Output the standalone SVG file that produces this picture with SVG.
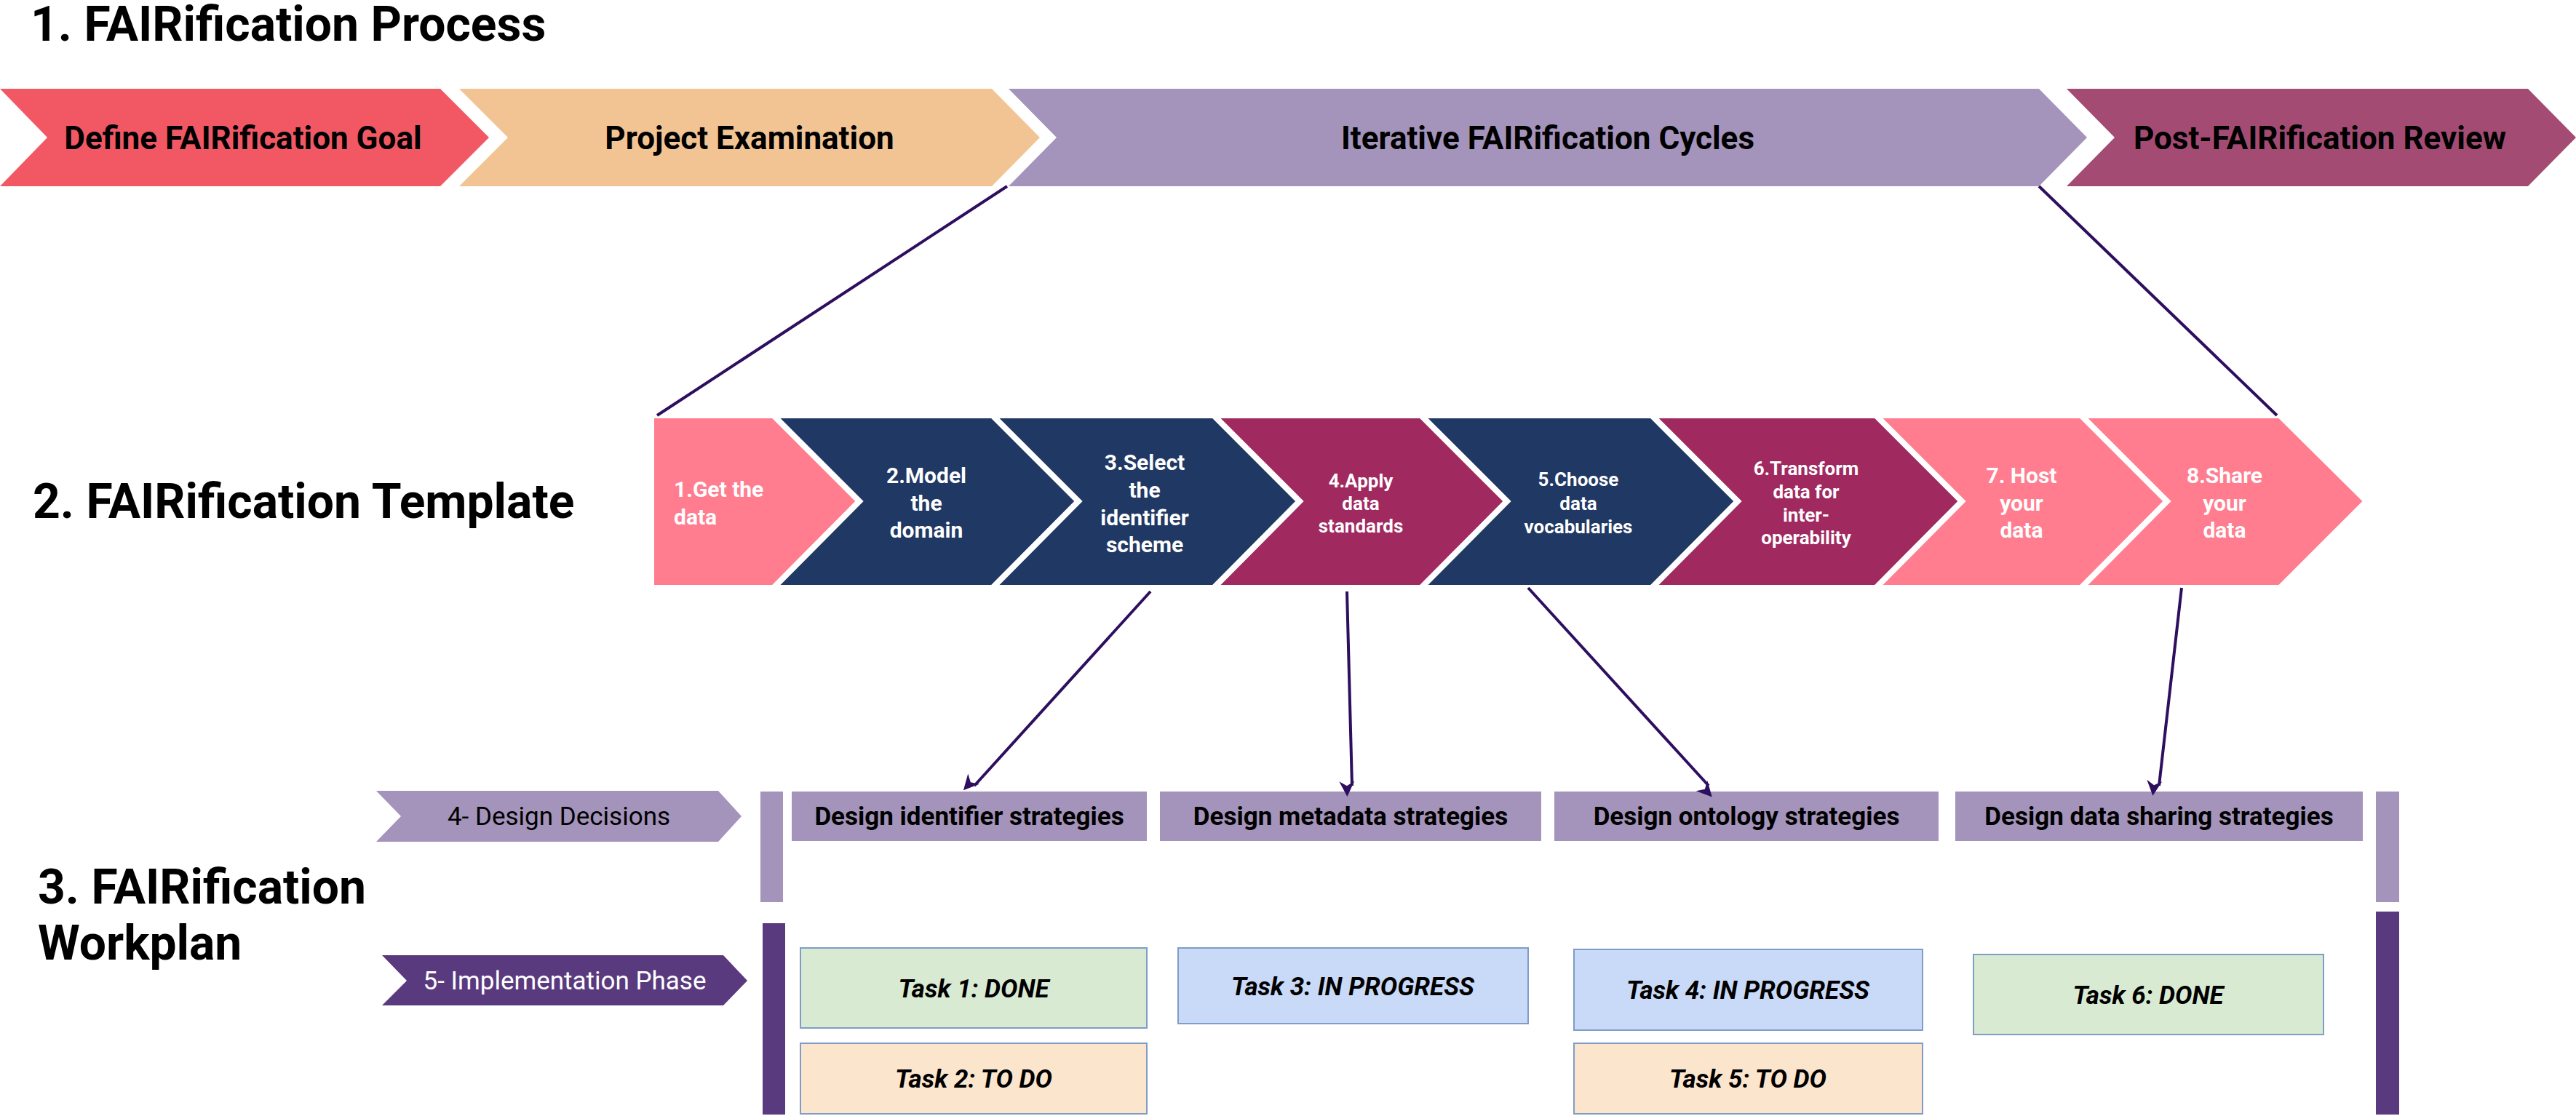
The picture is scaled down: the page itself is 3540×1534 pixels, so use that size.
<svg xmlns="http://www.w3.org/2000/svg" width="3540" height="1534" viewBox="0 0 3540 1534">
<style>
text{font-family:Roboto,"Liberation Sans",Arial,sans-serif}
.title{font-size:66px;font-weight:700;fill:#000}
.top{font-size:44px;font-weight:700;fill:#000;text-anchor:middle}
.tpl{font-size:30px;font-weight:700;fill:#fff;text-anchor:middle}
.tpls{font-size:26px;font-weight:700;fill:#fff;text-anchor:middle}
.hdr{font-size:35px;font-weight:700;fill:#000;text-anchor:middle}
.task{font-size:35px;font-weight:700;font-style:italic;fill:#000;text-anchor:middle}
.chev{stroke:#fff;stroke-width:8;stroke-linejoin:miter}
.conn{stroke:#2E0E5E;stroke-width:4;fill:none}
</style>
<defs>
<marker id="ah" viewBox="0 0 10 10" refX="9" refY="5" markerWidth="7" markerHeight="7" orient="auto" markerUnits="userSpaceOnUse" style="overflow:visible">
<path d="M0,0 L10,5 L0,10 L3,5 z" fill="#2E0E5E" transform="scale(3)"/>
</marker>
</defs>
<g id="titles">
<text class="title" x="42" y="56">1. FAIRification Process</text>
<text class="title" x="45" y="712">2. FAIRification Template</text>
<text class="title" x="52" y="1242">3. FAIRification</text>
<text class="title" x="52" y="1319">Workplan</text>
</g>
<g id="process">
<g id="p1"><polygon points="0,122 605,122 672,189 605,256 0,256 65,189" fill="#F25864"/><text class="top" x="334" y="205">Define FAIRification Goal</text></g>
<g id="p2"><polygon points="631,122 1363,122 1429,189 1363,256 631,256 698,189" fill="#F2C494"/><text class="top" x="1030" y="205">Project Examination</text></g>
<g id="p3"><polygon points="1386,122 2802,122 2868,189 2802,256 1386,256 1452,189" fill="#A493BA"/><text class="top" x="2127" y="205">Iterative FAIRification Cycles</text></g>
<g id="p4"><polygon points="2840,122 3474,122 3540,189 3474,256 2840,256 2906,189" fill="#A34B73"/><text class="top" x="3188" y="205">Post-FAIRification Review</text></g>
</g>
<g id="template">
<g id="t1"><polygon class="chev" points="895,571 1063,571 1181,689 1063,808 895,808" fill="#FF7D8F"/><text class="tpl" style="text-anchor:start" x="926" y="683">1.Get the</text><text class="tpl" style="text-anchor:start" x="926" y="721">data</text></g>
<g id="t2"><polygon class="chev" points="1063,571 1364,571 1482,689 1364,808 1063,808 1181,689" fill="#203864"/><text class="tpl" x="1273" y="664">2.Model</text><text class="tpl" x="1273" y="702">the</text><text class="tpl" x="1273" y="739">domain</text></g>
<g id="t3"><polygon class="chev" points="1364,571 1668,571 1786,689 1668,808 1364,808 1482,689" fill="#203864"/><text class="tpl" x="1573" y="646">3.Select</text><text class="tpl" x="1573" y="684">the</text><text class="tpl" x="1573" y="722">identifier</text><text class="tpl" x="1573" y="759">scheme</text></g>
<g id="t4"><polygon class="chev" points="1668,571 1953,571 2071,689 1953,808 1668,808 1786,689" fill="#A0295F"/><text class="tpls" x="1870" y="670">4.Apply</text><text class="tpls" x="1870" y="701">data</text><text class="tpls" x="1870" y="732">standards</text></g>
<g id="t5"><polygon class="chev" points="1953,571 2270,571 2388,689 2270,808 1953,808 2071,689" fill="#203864"/><text class="tpls" x="2169" y="668">5.Choose</text><text class="tpls" x="2169" y="701">data</text><text class="tpls" x="2169" y="733">vocabularies</text></g>
<g id="t6"><polygon class="chev" points="2270,571 2578,571 2696,689 2578,808 2270,808 2388,689" fill="#A0295F"/><text class="tpls" x="2482" y="653">6.Transform</text><text class="tpls" x="2482" y="685">data for</text><text class="tpls" x="2482" y="717">inter-</text><text class="tpls" x="2482" y="748">operability</text></g>
<g id="t7"><polygon class="chev" points="2578,571 2860,571 2978,689 2860,808 2578,808 2696,689" fill="#FF7D8F"/><text class="tpl" x="2778" y="664">7. Host</text><text class="tpl" x="2778" y="702">your</text><text class="tpl" x="2778" y="739">data</text></g>
<g id="t8"><polygon class="chev" points="2860,571 3133,571 3252,689 3133,808 2860,808 2978,689" fill="#FF7D8F"/><text class="tpl" x="3057" y="664">8.Share</text><text class="tpl" x="3057" y="702">your</text><text class="tpl" x="3057" y="739">data</text></g>
</g>
<g id="workplan">
<g id="design"><polygon points="517,1087 987,1087 1019,1122 987,1157 517,1157 551,1122" fill="#A493BA"/><text x="768" y="1134" style="font-size:35px;fill:#000;text-anchor:middle">4- Design Decisions</text></g>
<g id="impl"><polygon points="525,1313 994,1313 1027,1348 994,1382 525,1382 559,1348" fill="#5A3A7E"/><text x="776" y="1360" style="font-size:35px;fill:#fff;text-anchor:middle">5- Implementation Phase</text></g>
<rect x="1045" y="1088" width="31" height="152" fill="#A493BA"/>
<rect x="3265" y="1088" width="32" height="152" fill="#A493BA"/>
<rect x="1048" y="1269" width="31" height="263" fill="#5A3A7E"/>
<rect x="3265" y="1253" width="32" height="279" fill="#5A3A7E"/>
<g id="h1"><rect x="1088" y="1088" width="488" height="68" fill="#A493BA"/><text class="hdr" x="1332" y="1134">Design identifier strategies</text></g>
<g id="h2"><rect x="1594" y="1088" width="524" height="68" fill="#A493BA"/><text class="hdr" x="1856" y="1134">Design metadata strategies</text></g>
<g id="h3"><rect x="2136" y="1088" width="528" height="68" fill="#A493BA"/><text class="hdr" x="2400" y="1134">Design ontology strategies</text></g>
<g id="h4"><rect x="2687" y="1088" width="560" height="68" fill="#A493BA"/><text class="hdr" x="2967" y="1134">Design data sharing strategies</text></g>
<g id="task1"><rect x="1100" y="1303" width="476" height="110" fill="#D9EAD3" stroke="#7F9DC6" stroke-width="2"/><text class="task" x="1338" y="1371">Task 1: DONE</text></g>
<g id="task2"><rect x="1100" y="1434" width="476" height="97" fill="#FCE5CD" stroke="#7F9DC6" stroke-width="2"/><text class="task" x="1338" y="1495">Task 2: TO DO</text></g>
<g id="task3"><rect x="1619" y="1303" width="481" height="104" fill="#C9DAF8" stroke="#7F9DC6" stroke-width="2"/><text class="task" x="1859" y="1368">Task 3: IN PROGRESS</text></g>
<g id="task4"><rect x="2163" y="1305" width="479" height="111" fill="#C9DAF8" stroke="#7F9DC6" stroke-width="2"/><text class="task" x="2402" y="1373">Task 4: IN PROGRESS</text></g>
<g id="task5"><rect x="2163" y="1434" width="479" height="97" fill="#FCE5CD" stroke="#7F9DC6" stroke-width="2"/><text class="task" x="2402" y="1495">Task 5: TO DO</text></g>
<g id="task6"><rect x="2712" y="1312" width="481" height="110" fill="#D9EAD3" stroke="#7F9DC6" stroke-width="2"/><text class="task" x="2952" y="1380">Task 6: DONE</text></g>
</g>
<g id="connectors">
<line class="conn" x1="1384" y1="256" x2="903" y2="571"/>
<line class="conn" x1="2802" y1="256" x2="3129" y2="571"/>
<line class="conn" x1="1581" y1="813" x2="1339" y2="1080" marker-end="url(#ah)"/>
<line class="conn" x1="1851" y1="813" x2="1858" y2="1080" marker-end="url(#ah)"/>
<line class="conn" x1="2100" y1="808" x2="2348" y2="1080" marker-end="url(#ah)"/>
<line class="conn" x1="2998" y1="808" x2="2967" y2="1080" marker-end="url(#ah)"/>
</g>
</svg>
